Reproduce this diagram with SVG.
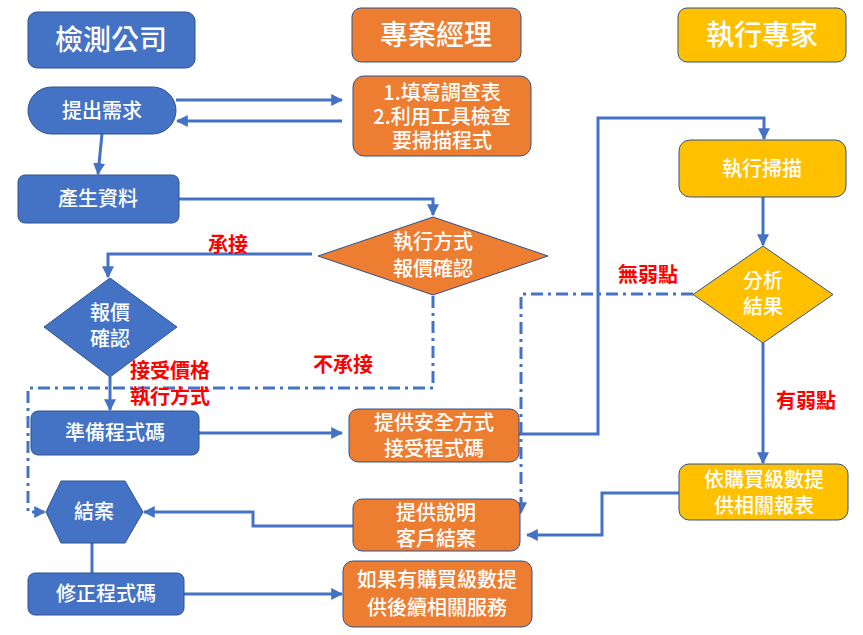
<svg xmlns="http://www.w3.org/2000/svg" width="863" height="635" viewBox="0 0 863 635">
<defs>
<marker id="ah" viewBox="0 0 10 10" refX="9" refY="5" markerWidth="4" markerHeight="4" orient="auto" markerUnits="strokeWidth"><path d="M0,0 L10,5 L0,10 z" fill="#4472C4"/></marker>
<style>
.b{fill:#4472C4;stroke:#2F528F;stroke-width:1}
.o{fill:#ED7D31;stroke:#2F528F;stroke-width:1}
.y{fill:#FFC000;stroke:#2F528F;stroke-width:1}
.t{fill:#fff;font-family:"Noto Sans CJK TC","Noto Sans CJK SC",sans-serif;font-size:20px;font-weight:500;text-anchor:middle}
.h{font-size:28px}
.r{fill:#FF0000;font-family:"Noto Sans CJK TC","Noto Sans CJK SC",sans-serif;font-size:20px;font-weight:700}
.c{fill:none;stroke:#4472C4;stroke-width:3}
.d{fill:none;stroke:#4472C4;stroke-width:3;stroke-dasharray:12 5 3 5}
</style>
</defs>
<rect width="863" height="635" fill="#fff"/>
<g id="connectors">
<path class="c" d="M176,100 H342" marker-end="url(#ah)"/>
<path class="c" d="M342,121 H177" marker-end="url(#ah)"/>
<path class="c" d="M102,134 L98,174" marker-end="url(#ah)"/>
<path class="c" d="M179,199 H433 V215" marker-end="url(#ah)"/>
<path class="c" d="M312,254 H108 V277" marker-end="url(#ah)"/>
<path class="c" d="M110,377 V410" marker-end="url(#ah)"/>
<path class="d" d="M433,296 V388 H28 V512 H45" marker-end="url(#ah)"/>
<path class="c" d="M199,433 H342" marker-end="url(#ah)"/>
<path class="c" d="M519,434 H598 V118 H764 V139" marker-end="url(#ah)"/>
<path class="c" d="M763,197 V245" marker-end="url(#ah)"/>
<path class="d" d="M693,294 H521 V513" marker-end="url(#ah)"/>
<path class="c" d="M763,343 V463" marker-end="url(#ah)"/>
<path class="c" d="M679,493 H602 V535 H527" marker-end="url(#ah)"/>
<path class="c" d="M353,526 H253 V512 H144" marker-end="url(#ah)"/>
<path class="c" d="M92,543 V573"/>
<path class="c" d="M184,594 H342" marker-end="url(#ah)"/>
</g>
<g id="labels">
<text class="r" x="228" y="252" text-anchor="middle">承接</text>
<text class="r" x="130" y="378">接受價格</text>
<text class="r" x="130" y="404">執行方式</text>
<text class="r" x="343" y="372" text-anchor="middle">不承接</text>
<text class="r" x="648" y="282" text-anchor="middle">無弱點</text>
<text class="r" x="806" y="408" text-anchor="middle">有弱點</text>
</g>
<g id="h1"><rect class="b" x="28" y="12" width="167" height="56" rx="9"/><text class="t h" x="111" y="50">檢測公司</text></g>
<g id="h2"><rect class="o" x="352" y="8" width="169" height="54" rx="9"/><text class="t h" x="436" y="45">專案經理</text></g>
<g id="h3"><rect class="y" x="678" y="8" width="168" height="54" rx="9"/><text class="t h" x="762" y="45">執行專家</text></g>
<g id="n1"><rect class="b" x="28" y="87" width="148" height="47" rx="23.5"/><text class="t" x="102" y="118">提出需求</text></g>
<g id="n2"><rect class="o" x="353" y="76" width="178" height="80" rx="11"/><text class="t" x="442" y="100">1.填寫調查表</text><text class="t" x="442" y="124">2.利用工具檢查</text><text class="t" x="442" y="148">要掃描程式</text></g>
<g id="n3"><rect class="b" x="18" y="175" width="161" height="48" rx="7"/><text class="t" x="98" y="206">產生資料</text></g>
<g id="n4"><polygon class="o" points="433,217 548,256 433,295 318,256"/><text class="t" x="433" y="249">執行方式</text><text class="t" x="433" y="276">報價確認</text></g>
<g id="n5"><polygon class="b" points="110,278 177,327 110,377 44,327"/><text class="t" x="110" y="320">報價</text><text class="t" x="110" y="346">確認</text></g>
<g id="n6"><rect class="b" x="31" y="411" width="168" height="44" rx="7"/><text class="t" x="115" y="440">準備程式碼</text></g>
<g id="n7"><rect class="o" x="349" y="409" width="170" height="53" rx="9"/><text class="t" x="434" y="430">提供安全方式</text><text class="t" x="434" y="456">接受程式碼</text></g>
<g id="n8"><rect class="y" x="679" y="140" width="167" height="57" rx="11"/><text class="t" x="762" y="176">執行掃描</text></g>
<g id="n9"><polygon class="y" points="763,246 833,294.5 763,343 693,294.5"/><text class="t" x="763" y="288">分析</text><text class="t" x="763" y="314">結果</text></g>
<g id="n10"><rect class="y" x="679" y="464" width="169" height="56" rx="10"/><text class="t" x="764" y="487">依購買級數提</text><text class="t" x="764" y="513">供相關報表</text></g>
<g id="n11"><rect class="o" x="353" y="499" width="167" height="52" rx="9"/><text class="t" x="436" y="520">提供說明</text><text class="t" x="436" y="546">客戶結案</text></g>
<g id="n12"><polygon class="b" points="46,512 61,481 125,481 143,512 125,543 61,543"/><text class="t" x="94" y="519">結案</text></g>
<g id="n13"><rect class="b" x="28" y="573" width="156" height="42" rx="7"/><text class="t" x="106" y="601">修正程式碼</text></g>
<g id="n14"><rect class="o" x="343" y="561" width="189" height="66" rx="10"/><text class="t" x="437" y="587">如果有購買級數提</text><text class="t" x="437" y="615">供後續相關服務</text></g>
</svg>
